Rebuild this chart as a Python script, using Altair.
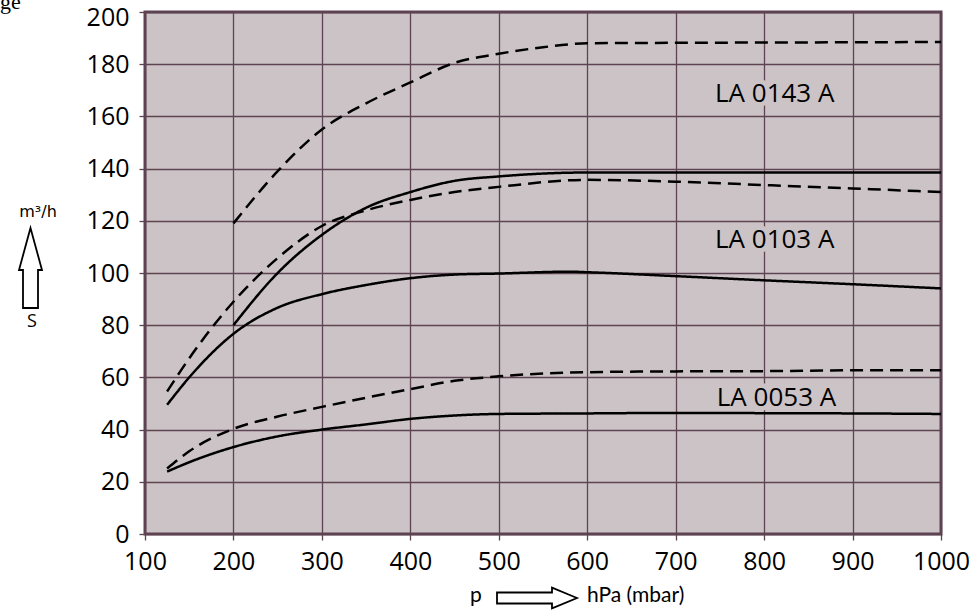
import altair as alt
import pandas as pd

# ---- data ----
x_0143_dash = [200, 250, 300, 350, 400, 450, 500, 550, 600, 700, 800, 900, 1000]
y_0143_dash = [119, 139, 155, 165, 173, 180.5, 184, 186.5, 188, 188.2, 188.3, 188.4, 188.5]

x_0103_solid = [200, 250, 300, 350, 400, 450, 500, 600, 700, 800, 900, 1000]
y_0103_solid = [80, 100, 114.6, 125, 131, 135.3, 137, 138.5, 138.5, 138.5, 138.5, 138.5]

x_0103_dash = [125, 150, 200, 250, 300, 350, 400, 450, 500, 600, 700, 800, 900, 1000]
y_0103_dash = [54.6, 67.3, 89, 105.7, 118, 124, 128, 131, 133, 135.7, 135, 133.7, 132.4, 131]

x_0103_low = [125, 150, 200, 250, 300, 350, 400, 450, 500, 580, 600, 700, 800, 900, 1000]
y_0103_low = [49.5, 60, 76.7, 86.7, 91.9, 95.4, 98, 99.4, 99.8, 100.5, 100.3, 98.8, 97.2, 95.7, 94.1]

x_0053_dash = [125, 150, 200, 250, 300, 350, 400, 450, 500, 600, 700, 800, 900, 1000]
y_0053_dash = [25.1, 31.7, 40.3, 45, 48.7, 52.2, 55.5, 58.7, 60.4, 62, 62.3, 62.4, 62.7, 62.7]

x_0053_solid = [125, 150, 200, 250, 300, 350, 400, 450, 500, 600, 700, 800, 900, 1000]
y_0053_solid = [23.9, 27.5, 33.3, 37.4, 40, 42, 44.1, 45.4, 46, 46.2, 46.4, 46.3, 46.2, 46]

label_texts = ["LA 0143 A", "LA 0103 A", "LA 0053 A"]
label_x = [812, 812, 814]
label_y = [168.5, 112.5, 52.2]

x_ticks = [100, 200, 300, 400, 500, 600, 700, 800, 900, 1000]
y_ticks = [0, 20, 40, 60, 80, 100, 120, 140, 160, 180, 200]

series = [
    ("0143_dash", "dashed", x_0143_dash, y_0143_dash),
    ("0103_solid", "solid", x_0103_solid, y_0103_solid),
    ("0103_dash", "dashed", x_0103_dash, y_0103_dash),
    ("0103_low", "solid", x_0103_low, y_0103_low),
    ("0053_dash", "dashed", x_0053_dash, y_0053_dash),
    ("0053_solid", "solid", x_0053_solid, y_0053_solid),
]
rows = []
for key, style, xs_, ys_ in series:
    for xv, yv in zip(xs_, ys_):
        rows.append({"key": key, "style": style, "x": xv, "y": yv})
df = pd.DataFrame(rows)
labels_df = pd.DataFrame({"t": label_texts, "x": label_x, "y": label_y})

BG = "#cbc3c6"
GRID = "#5e4352"
FONT = "Open Sans"

xs = alt.Scale(domain=[100, 1000], nice=False)
ys = alt.Scale(domain=[0, 200], nice=False)

lines = alt.Chart(df).mark_line(interpolate="monotone", strokeWidth=2.5, color="black").encode(
    x=alt.X("x:Q", scale=xs, axis=alt.Axis(values=x_ticks, title=None, labelPadding=9, format="d",
                                           labelFlush=False, labelOverlap=False)),
    y=alt.Y("y:Q", scale=ys, axis=alt.Axis(values=y_ticks, title=None, labelPadding=10, format="d",
                                           labelFlush=False, labelOverlap=False,
                                           labelOffset={"condition": {"test": "datum.value == 200", "value": 5}, "value": 0})),
    detail="key:N",
    strokeDash=alt.StrokeDash("style:N", scale=alt.Scale(domain=["solid", "dashed"], range=[[1, 0], [13, 7]]), legend=None),
)

halo = alt.Chart(labels_df).mark_text(font=FONT, fontSize=26, color=BG, stroke=BG, strokeWidth=10, strokeJoin="round").encode(
    x=alt.X("x:Q", scale=xs), y=alt.Y("y:Q", scale=ys), text="t:N")
texts = alt.Chart(labels_df).mark_text(font=FONT, fontSize=26, color="black").encode(
    x=alt.X("x:Q", scale=xs), y=alt.Y("y:Q", scale=ys), text="t:N")

# annotations outside the plot area
up_arrow = "M 0 -1 L 0.2875 0.05 L 0.1875 0.05 L 0.1875 1 L -0.1875 1 L -0.1875 0.05 L -0.2875 0.05 Z"
right_arrow = "M 1 0 L 0.375 -0.26 L 0.375 -0.1375 L -1 -0.1375 L -1 0.1375 L 0.375 0.1375 L 0.375 0.26 Z"
one = pd.DataFrame({"a": [0]})

arr_y = alt.Chart(one).mark_point(shape=up_arrow, size=6400, filled=False, stroke="black", strokeWidth=1.8, opacity=1).encode(
    x=alt.value(-114.5), y=alt.value(256))
arr_x = alt.Chart(one).mark_point(shape=right_arrow, size=6400, filled=False, stroke="black", strokeWidth=1.8, opacity=1).encode(
    x=alt.value(392), y=alt.value(586))

t_unit = alt.Chart(pd.DataFrame({"t": ["m³/h"]})).mark_text(font="DejaVu Sans", fontSize=16, color="black").encode(
    text="t:N", x=alt.value(-107), y=alt.value(200))
t_s = alt.Chart(pd.DataFrame({"t": ["S"]})).mark_text(font=FONT, fontSize=18, color="black").encode(
    text="t:N", x=alt.value(-113), y=alt.value(310))
t_p = alt.Chart(pd.DataFrame({"t": ["p"]})).mark_text(font="Lato", fontSize=21, color="black").encode(
    text="t:N", x=alt.value(331), y=alt.value(584))
t_hpa = alt.Chart(pd.DataFrame({"t": ["hPa (mbar)"]})).mark_text(font="Lato", fontSize=21, color="black", align="left").encode(
    text="t:N", x=alt.value(442), y=alt.value(584))
t_ge = alt.Chart(pd.DataFrame({"t": ["ge"]})).mark_text(font="Liberation Serif", fontSize=22, color="black", align="left", baseline="alphabetic").encode(
    text="t:N", x=alt.value(-145), y=alt.value(-3))

chart = alt.layer(lines, halo, texts, arr_y, arr_x, t_unit, t_s, t_p, t_hpa, t_ge).properties(
    width=796, height=522,
    padding={"left": 145, "top": 12, "right": 30, "bottom": 81},
    autosize=alt.AutoSizeParams(type="none"),
).configure_view(
    fill=BG, stroke=GRID, strokeWidth=3,
).configure_axis(
    domain=False, grid=True, gridColor=GRID, gridWidth=1.3, gridOpacity=1,
    tickColor=GRID, tickSize=6, tickWidth=1.3,
    labelFont=FONT, labelFontSize=25, labelColor="black",
)

chart.save("out.html", embed_options={"renderer": "svg", "actions": False})
